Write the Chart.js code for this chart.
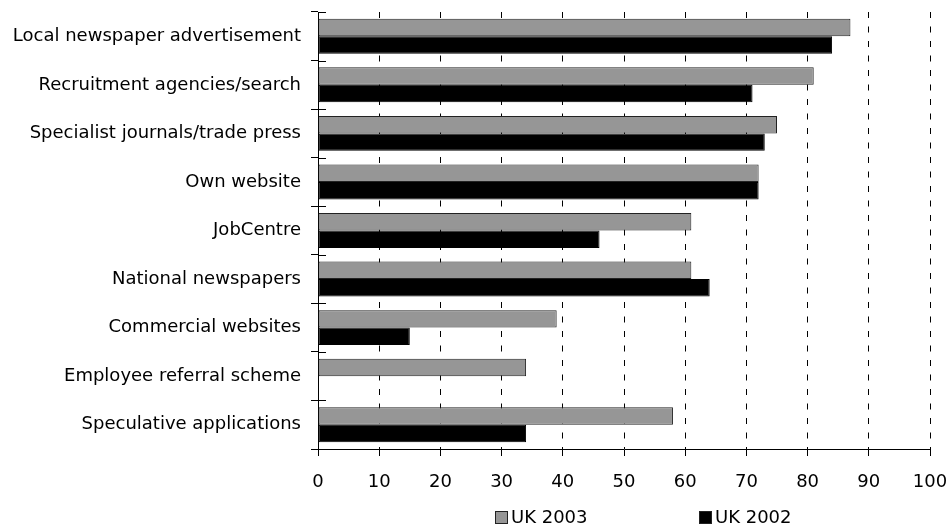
<!DOCTYPE html>
<html>
<head>
<meta charset="utf-8">
<script src="https://cdn.jsdelivr.net/npm/chart.js@4/dist/chart.umd.min.js"></script>
<style>
  html, body { margin: 0; padding: 0; background: #fff; }
  #wrap { width: 948px; height: 528px; }
</style>
</head>
<body>
<div id="wrap"><canvas id="c" width="948" height="528"></canvas></div>
<script>
// Recruitment methods used (%), by year
const categories = [
  'Local newspaper advertisement',
  'Recruitment agencies/search',
  'Specialist journals/trade press',
  'Own website',
  'JobCentre',
  'National newspapers',
  'Commercial websites',
  'Employee referral scheme',
  'Speculative applications'
];
const uk2003 = [87, 81, 75, 72, 61, 61, 39, 34, 58];
const uk2002 = [84, 71, 73, 72, 46, 64, 15, null, 34];
const xTicks = [0, 10, 20, 30, 40, 50, 60, 70, 80, 90, 100];

const FONT = "'DejaVu Sans', sans-serif";
const FONT_SIZE = 18;

// Category boundary ticks that cross the value axis into the plot area
const crossTicks = {
  id: 'crossTicks',
  afterDraw(chart) {
    const { ctx, chartArea } = chart;
    const n = chart.data.labels.length;
    const step = (chartArea.bottom - chartArea.top) / n;
    ctx.save();
    ctx.strokeStyle = '#000';
    ctx.lineWidth = 1;
    for (let i = 0; i <= n; i++) {
      const y = Math.round(chartArea.top + i * step) + 0.5;
      ctx.beginPath();
      ctx.moveTo(chartArea.left, y);
      ctx.lineTo(chartArea.left + 8, y);
      ctx.stroke();
    }
    ctx.restore();
  }
};

// Legend below the axis, items spread across the width
const spreadLegend = {
  id: 'spreadLegend',
  afterDraw(chart) {
    const { ctx } = chart;
    const starts = [495, 699];
    const y = 518;
    ctx.save();
    ctx.font = FONT_SIZE + 'px ' + FONT;
    ctx.textBaseline = 'middle';
    ctx.textAlign = 'left';
    chart.data.datasets.forEach((ds, i) => {
      const x = starts[i];
      ctx.fillStyle = ds.backgroundColor;
      ctx.fillRect(x, y - 7, 13, 13);
      ctx.strokeStyle = '#222';
      ctx.lineWidth = 1;
      ctx.strokeRect(x + 0.5, y - 6.5, 12, 12);
      ctx.fillStyle = '#000';
      ctx.fillText(ds.label, x + 16, y);
    });
    ctx.restore();
  }
};

new Chart(document.getElementById('c'), {
  type: 'bar',
  data: {
    labels: categories,
    datasets: [
      { label: 'UK 2003', data: uk2003, backgroundColor: '#969696', borderColor: '#222', borderWidth: 1, borderSkipped: false },
      { label: 'UK 2002', data: uk2002, backgroundColor: '#000000', borderColor: '#000', borderWidth: 1, borderSkipped: false }
    ]
  },
  options: {
    indexAxis: 'y',
    responsive: false,
    animation: false,
    devicePixelRatio: 1,
    layout: { padding: { top: 12, right: 18, left: 0, bottom: 0 } },
    datasets: { bar: { categoryPercentage: 0.72, barPercentage: 1.0 } },
    plugins: { legend: { display: false }, tooltip: { enabled: false } },
    scales: {
      x: {
        min: 0, max: 100,
        afterBuildTicks(scale) { scale.ticks = xTicks.map(v => ({ value: v })); },
        afterFit(scale) {
          scale.height = 79;
          scale.paddingLeft = 0;
          scale.paddingRight = 0;
        },
        border: { display: true, color: '#000', width: 1, dash: [6, 8.5] },
        grid: {
          color: (c) => c.tick && c.tick.value === 0 ? 'rgba(0,0,0,0)' : '#000',
          tickColor: '#000',
          lineWidth: 1,
          tickBorderDash: [],
          drawTicks: true,
          tickLength: 7
        },
        ticks: {
          color: '#000',
          font: { family: FONT, size: FONT_SIZE },
          padding: 16,
          maxRotation: 0,
          autoSkip: false
        }
      },
      y: {
        afterFit(scale) {
          scale.width = 318;
          scale.paddingTop = 0;
          scale.paddingBottom = 0;
        },
        border: { display: true, color: '#000', width: 1 },
        grid: {
          offset: true,
          drawOnChartArea: false,
          drawTicks: true,
          tickLength: 7,
          tickColor: '#000'
        },
        ticks: {
          color: '#000',
          font: { family: FONT, size: FONT_SIZE },
          padding: 10,
          autoSkip: false
        }
      }
    }
  },
  plugins: [crossTicks, spreadLegend]
});
</script>
</body>
</html>
